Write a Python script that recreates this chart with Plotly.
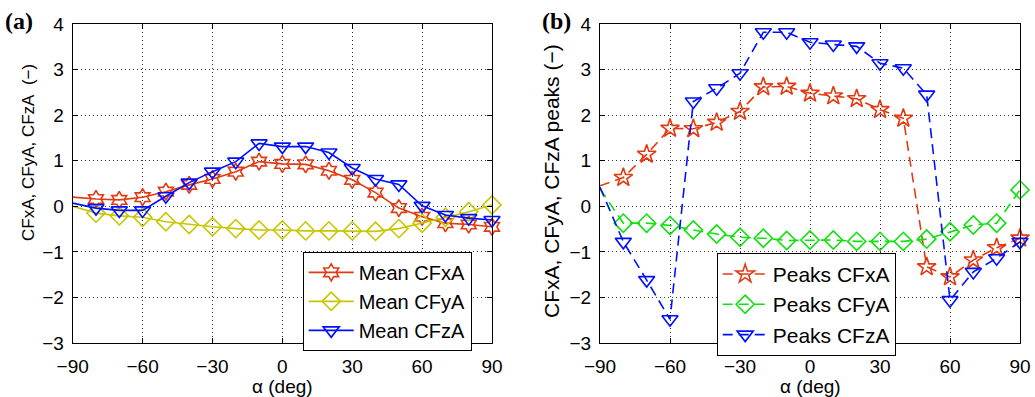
import plotly.graph_objects as go

alpha = [-90, -80, -70, -60, -50, -40, -30, -20, -10, 0, 10, 20, 30, 40, 50, 60, 70, 80, 90]

mean_x = [0.20, 0.16, 0.14, 0.20, 0.32, 0.47, 0.60, 0.76, 0.98, 0.93, 0.92, 0.78, 0.58, 0.30, -0.04, -0.23, -0.37, -0.40, -0.45]
mean_y = [0.00, -0.15, -0.21, -0.24, -0.34, -0.40, -0.45, -0.49, -0.52, -0.52, -0.54, -0.54, -0.54, -0.55, -0.49, -0.37, -0.24, -0.12, 0.03]
mean_z = [0.07, -0.04, -0.09, -0.09, 0.22, 0.52, 0.76, 0.98, 1.38, 1.31, 1.31, 1.18, 0.84, 0.60, 0.48, 0.01, -0.19, -0.26, -0.30]

peaks_x = [0.45, 0.63, 1.14, 1.71, 1.70, 1.84, 2.08, 2.62, 2.63, 2.48, 2.42, 2.36, 2.12, 1.93, -1.33, -1.55, -1.18, -0.91, -0.70]
peaks_y = [0.38, -0.37, -0.37, -0.42, -0.52, -0.61, -0.68, -0.70, -0.75, -0.74, -0.74, -0.77, -0.77, -0.77, -0.72, -0.56, -0.41, -0.37, 0.36]
peaks_z = [0.42, -0.78, -1.62, -2.48, 2.30, 2.59, 2.92, 3.82, 3.82, 3.60, 3.55, 3.51, 3.14, 3.03, 2.45, -2.06, -1.44, -1.14, -0.78]

x_ticks = [-90, -60, -30, 0, 30, 60, 90]
y_ticks = [-3, -2, -1, 0, 1, 2, 3, 4]

RED = "#E23A12"
YEL = "#C8C600"
BLUE = "#0010FF"
GREEN = "#10E010"

W, H = 1035, 397
TOP, BOT = 24.3, 342.7
PH = BOT - TOP

fig = go.Figure()

series = [
    ("Mean CFxA", mean_x, RED, "hexagram-open", 13, "solid", "x", "y", "legend"),
    ("Mean CFyA", mean_y, YEL, "diamond-open", 14, "solid", "x", "y", "legend"),
    ("Mean CFzA", mean_z, BLUE, "triangle-down-open", 14, "solid", "x", "y", "legend"),
    ("Peaks CFxA", peaks_x, RED, "star-open", 14, "10px,6px", "x2", "y2", "legend2"),
    ("Peaks CFyA", peaks_y, GREEN, "diamond-open", 14, "10px,6px", "x2", "y2", "legend2"),
    ("Peaks CFzA", peaks_z, BLUE, "triangle-down-open", 14, "10px,6px", "x2", "y2", "legend2"),
]

for name, vals, col, sym, sz, dash, xa, ya, lg in series:
    fig.add_trace(go.Scatter(x=alpha, y=vals, mode="lines", xaxis=xa, yaxis=ya,
                             line=dict(color=col, width=1.6, dash=dash),
                             showlegend=False, hoverinfo="skip"))
    fig.add_trace(go.Scatter(x=alpha[1:], y=vals[1:], mode="markers", xaxis=xa, yaxis=ya,
                             marker=dict(symbol=sym, size=sz, color=col, line=dict(width=1.6, color=col)),
                             showlegend=False, cliponaxis=False))
    fig.add_trace(go.Scatter(x=[None], y=[None], mode="lines+markers", xaxis=xa, yaxis=ya,
                             name=name, legend=lg, legendgroup=name,
                             line=dict(color=col, width=1.6, dash=dash),
                             marker=dict(symbol=sym, size=sz, color=col, line=dict(width=1.6, color=col))))

tickfont = dict(family="Liberation Sans, Arial", size=19, color="black")
common_x = dict(range=[-90, 90], tickvals=x_ticks, showgrid=True, gridcolor="#333333",
                griddash="1px,3px", gridwidth=1, showline=True, linecolor="black", linewidth=1,
                mirror="ticks", ticks="inside", ticklen=5, tickcolor="black", zeroline=False,
                tickfont=tickfont, automargin=False, ticklabelstandoff=6)
common_y = dict(range=[-3, 4], tickvals=y_ticks, showgrid=True, gridcolor="#333333",
                griddash="1px,3px", gridwidth=1, showline=True, linecolor="black", linewidth=1,
                mirror="ticks", ticks="inside", ticklen=5, tickcolor="black", zeroline=False,
                tickfont=tickfont, automargin=False, ticklabelstandoff=4, domain=[0, 1])

def legend_cfg(x0, ytop, fs):
    return dict(x=x0 / W, y=(BOT - ytop) / PH, xanchor="left", yanchor="top",
                bordercolor="black", borderwidth=1, bgcolor="white",
                font=dict(family="Liberation Sans, Arial", size=fs, color="black"),
                itemwidth=45, tracegroupgap=0, traceorder="grouped")

fig.update_layout(
    width=W, height=H,
    margin=dict(l=0, r=0, t=TOP, b=H - BOT, pad=0),
    plot_bgcolor="white", paper_bgcolor="white",
    xaxis=dict(domain=[72.7 / W, 492 / W], anchor="y", **common_x),
    yaxis=dict(anchor="x", **common_y),
    xaxis2=dict(domain=[600 / W, 1020 / W], anchor="y2", **common_x),
    yaxis2=dict(anchor="x2", **common_y),
    legend=legend_cfg(302.7, 251.7, 20),
    legend2=legend_cfg(716.7, 252.7, 21),
)

def ypaper(py):
    return (BOT - py) / PH

ann_font = dict(family="Liberation Sans, Arial", size=19, color="black")
fig.add_annotation(text="CFxA, CFyA, CFzA\u00a0\u00a0(\u2212)", textangle=-90, x=29 / W, y=ypaper(153),
                   xref="paper", yref="paper", showarrow=False,
                   font=dict(family="Liberation Sans, Arial", size=17, color="black"),
                   xanchor="center", yanchor="middle")
fig.add_annotation(text="CFxA, CFyA, CFzA peaks (\u2212)", textangle=-90, x=552 / W, y=ypaper(181),
                   xref="paper", yref="paper", showarrow=False,
                   font=dict(family="Liberation Sans, Arial", size=21, color="black"),
                   xanchor="center", yanchor="middle")
for cx in (282.3, 810):
    fig.add_annotation(text="\u03b1 (deg)", x=cx / W, y=ypaper(386), xref="paper", yref="paper",
                       showarrow=False, font=ann_font, xanchor="center", yanchor="middle")
lab_font = dict(family="Liberation Serif, Times New Roman", size=24, color="black")
fig.add_annotation(text="<b>(a)</b>", x=19 / W, y=ypaper(21), xref="paper", yref="paper",
                   showarrow=False, font=lab_font, xanchor="center", yanchor="middle")
fig.add_annotation(text="<b>(b)</b>", x=556 / W, y=ypaper(21), xref="paper", yref="paper",
                   showarrow=False, font=lab_font, xanchor="center", yanchor="middle")

fig.write_html("out.html", config={"displayModeBar": False},
               post_script="document.body.style.margin='0px';document.body.style.overflow='hidden';")
